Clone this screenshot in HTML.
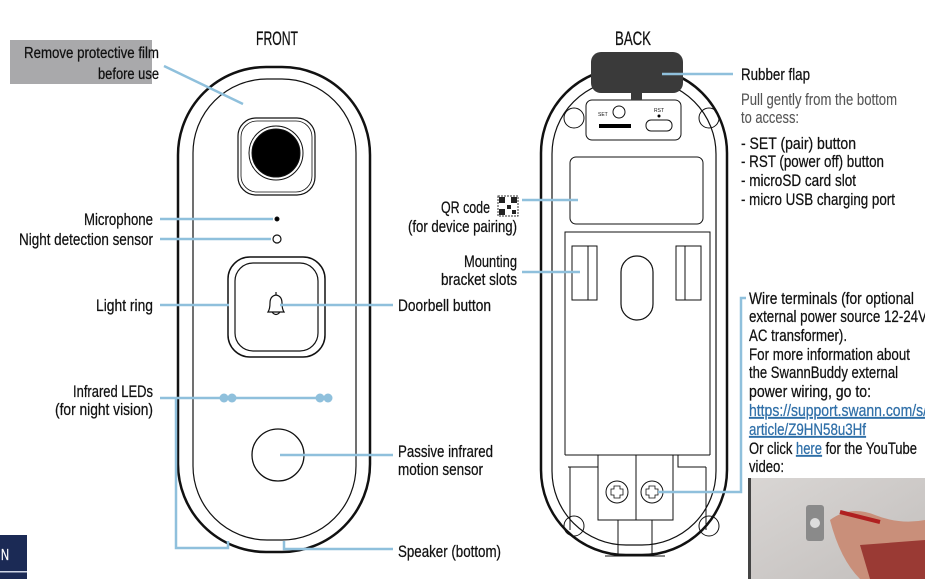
<!DOCTYPE html>
<html><head><meta charset="utf-8"><style>
html,body{margin:0;padding:0;background:#fff;}
svg{display:block;}
text{font-family:"Liberation Sans Narrow","Liberation Sans",sans-serif;font-size:16.5px;fill:#111;stroke:#111;stroke-width:0.25px;}
.g{fill:#555;stroke:#555;stroke-width:0.1px;}
.l{fill:#2f6fa8;stroke:#2f6fa8;text-decoration:underline;}
</style></head><body>
<svg width="925" height="579" viewBox="0 0 925 579" xmlns="http://www.w3.org/2000/svg">
<rect width="925" height="579" fill="#fff"/>
<text x="256" y="45" textLength="42" lengthAdjust="spacingAndGlyphs" style="font-size:19px">FRONT</text>
<text x="615" y="45" textLength="36" lengthAdjust="spacingAndGlyphs" style="font-size:19px">BACK</text>
<rect x="10" y="40" width="142" height="44" fill="#a9a9ab"/>
<text x="24" y="58" textLength="135" lengthAdjust="spacingAndGlyphs" style="font-size:15.5px">Remove protective film</text>
<text x="98" y="79" textLength="61" lengthAdjust="spacingAndGlyphs" style="font-size:15.5px">before use</text>
<rect x="0" y="535" width="27" height="44" fill="#1b2a55"/>
<rect x="0" y="571" width="27" height="1.5" fill="#cfd6e6"/>
<text x="1" y="560" style="fill:#fff;stroke:#fff;font-size:16px" textLength="8" lengthAdjust="spacingAndGlyphs">N</text>

<g fill="none" stroke="#111">
<rect x="178" y="67" width="192" height="485" rx="88" stroke-width="2.5"/>
<rect x="193" y="79" width="163" height="461" rx="74" stroke-width="1.2"/>
<rect x="238" y="118" width="77" height="77" rx="18" stroke-width="1.2"/>
<rect x="241" y="121" width="71" height="71" rx="16" stroke-width="0.8"/>
<circle cx="276" cy="153" r="27" stroke-width="1"/>
<circle cx="276" cy="153" r="24" fill="#000"/>
<circle cx="277" cy="219" r="2" fill="#000"/>
<circle cx="277" cy="239" r="4" stroke-width="1.2"/>
<rect x="228" y="257" width="97" height="100" rx="22" stroke-width="1.5"/>
<rect x="235" y="263" width="83" height="88" rx="18" stroke-width="1.2"/>
<path d="M268 312 q2-3 2-9 q0-7 6-8 q6 1 6 8 q0 6 2 9 z M272 312 q4 5 8 0 M276 295 v-3" stroke-width="1.2"/>
<circle cx="278" cy="455" r="26" stroke-width="1.3"/>
<rect x="541" y="68" width="186" height="487" rx="85" stroke-width="2.5"/>
<rect x="552" y="80" width="164" height="465" rx="74" stroke-width="1.2"/>
<circle cx="574" cy="118" r="10" stroke-width="1"/>
<circle cx="709" cy="118" r="10" stroke-width="1"/>
<circle cx="574" cy="526" r="10" stroke-width="1"/>
<circle cx="709" cy="526" r="10" stroke-width="1"/>
<rect x="586" y="100" width="95" height="40" rx="6" stroke-width="1"/>
<circle cx="619" cy="112" r="6" stroke-width="1"/>
<rect x="646" y="120" width="26" height="11" rx="5" stroke-width="1"/>
<rect x="570" y="157" width="133" height="67" rx="6" stroke-width="1"/>
<path d="M565 455 V232 H710 V455" stroke-width="1"/>
<rect x="572" y="246" width="25" height="54" stroke-width="1"/>
<rect x="676" y="246" width="25" height="54" stroke-width="1"/>
<path d="M588 246 V300 M685 246 V300" stroke-width="1"/>
<rect x="621" y="256" width="32" height="64" rx="16" stroke-width="1.2"/>
<path d="M565 455 H710 M568 467 H598 V455 M678 455 V467 H706 M598 455 V520 H673 V455 M636 455 V520 M570 467 V530 M706 467 V530 M618 520 V556 H652 V520 M605 556 H665" stroke-width="1"/>
<circle cx="617" cy="492" r="11" stroke-width="1"/>
<circle cx="652" cy="492" r="11" stroke-width="1"/>
<path d="M614 486 h6 v3 h3 v6 h-3 v3 h-6 v-3 h-3 v-6 h3 z M649 486 h6 v3 h3 v6 h-3 v3 h-6 v-3 h-3 v-6 h3 z" stroke-width="0.8"/>
</g>
<rect x="599" y="124" width="32" height="4" fill="#000"/>
<circle cx="659" cy="116" r="1.5" fill="#000"/>
<text x="598" y="116" style="font-size:5px;stroke-width:0">SET</text>
<text x="654" y="112" style="font-size:5px;stroke-width:0">RST</text>
<rect x="591" y="52" width="92" height="41" rx="10" fill="#3a3a3a"/>
<rect x="631" y="92" width="11" height="8" fill="#3a3a3a"/>

<g stroke="#8fc0dc" stroke-width="2.5" fill="none">
<path d="M164 66 L243 104"/>
<path d="M160 219 H273"/>
<path d="M160 239 H271"/>
<path d="M160 305 H229"/>
<path d="M280 305 H393"/>
<path d="M160 398 H328 M176 398 V548 H228 V541"/>
<path d="M280 455 H393"/>
<path d="M284 541 V549 H393"/>
<path d="M662 74 H733"/>
<path d="M522 200 H578"/>
<path d="M522 272 H580"/>
<path d="M658 492 H741 V298 H746"/>
</g>
<g fill="#8fc0dc">
<circle cx="224" cy="398" r="4.5"/><circle cx="232" cy="398" r="4.5"/>
<circle cx="320" cy="398" r="4.5"/><circle cx="328" cy="398" r="4.5"/>
</g>

<text x="84" y="225" textLength="69" lengthAdjust="spacingAndGlyphs">Microphone</text>
<text x="19" y="245" textLength="134" lengthAdjust="spacingAndGlyphs">Night detection sensor</text>
<text x="96" y="311" textLength="57" lengthAdjust="spacingAndGlyphs">Light ring</text>
<text x="73" y="397" textLength="80" lengthAdjust="spacingAndGlyphs">Infrared LEDs</text>
<text x="55" y="415" textLength="98" lengthAdjust="spacingAndGlyphs">(for night vision)</text>
<text x="441" y="213" textLength="49" lengthAdjust="spacingAndGlyphs">QR code</text>
<text x="408" y="232" textLength="109" lengthAdjust="spacingAndGlyphs">(for device pairing)</text>
<text x="464" y="267" textLength="53" lengthAdjust="spacingAndGlyphs">Mounting</text>
<text x="441" y="285" textLength="76" lengthAdjust="spacingAndGlyphs">bracket slots</text>
<g fill="#222">
<rect x="498" y="196" width="20" height="20" fill="#fff" stroke="#333" stroke-width="1" stroke-dasharray="2 1"/>
<rect x="499" y="197" width="6" height="6"/><rect x="511" y="197" width="6" height="6"/><rect x="499" y="209" width="6" height="6"/>
<rect x="507" y="205" width="4" height="4"/><rect x="512" y="210" width="4" height="4"/>
</g>
<text x="398" y="311" textLength="93" lengthAdjust="spacingAndGlyphs">Doorbell button</text>
<text x="398" y="457" textLength="95" lengthAdjust="spacingAndGlyphs">Passive infrared</text>
<text x="398" y="475" textLength="85" lengthAdjust="spacingAndGlyphs">motion sensor</text>
<text x="398" y="557" textLength="103" lengthAdjust="spacingAndGlyphs">Speaker (bottom)</text>

<text x="741" y="80" textLength="69" lengthAdjust="spacingAndGlyphs" style="font-size:17px">Rubber flap</text>
<text x="741" y="105" class="g" textLength="156" lengthAdjust="spacingAndGlyphs">Pull gently from the bottom</text>
<text x="741" y="123" class="g" textLength="58" lengthAdjust="spacingAndGlyphs">to access:</text>
<text x="741" y="149" textLength="115" lengthAdjust="spacingAndGlyphs">- SET (pair) button</text>
<text x="741" y="167" textLength="143" lengthAdjust="spacingAndGlyphs">- RST (power off) button</text>
<text x="741" y="186" textLength="115" lengthAdjust="spacingAndGlyphs">- microSD card slot</text>
<text x="741" y="205" textLength="154" lengthAdjust="spacingAndGlyphs">- micro USB charging port</text>

<text x="749" y="304" textLength="165" lengthAdjust="spacingAndGlyphs">Wire terminals (for optional</text>
<text x="749" y="322" textLength="178" lengthAdjust="spacingAndGlyphs">external power source 12-24V</text>
<text x="749" y="341" textLength="98" lengthAdjust="spacingAndGlyphs">AC transformer).</text>
<text x="749" y="360" textLength="161" lengthAdjust="spacingAndGlyphs">For more information about</text>
<text x="749" y="378" textLength="149" lengthAdjust="spacingAndGlyphs">the SwannBuddy external</text>
<text x="749" y="397" textLength="122" lengthAdjust="spacingAndGlyphs">power wiring, go to:</text>
<text x="749" y="416" class="l" textLength="178" lengthAdjust="spacingAndGlyphs">https://support.swann.com/s/</text>
<text x="749" y="435" class="l" textLength="117" lengthAdjust="spacingAndGlyphs">article/Z9HN58u3Hf</text>
<text x="749" y="454" textLength="168" lengthAdjust="spacingAndGlyphs">Or click <tspan class="l">here</tspan> for the YouTube</text>
<text x="749" y="472" textLength="35" lengthAdjust="spacingAndGlyphs">video:</text>

<defs><linearGradient id="wall" x1="0" y1="0" x2="1" y2="1"><stop offset="0" stop-color="#d9d6d4"/><stop offset="1" stop-color="#c2bebc"/></linearGradient></defs>
<rect x="748" y="478" width="177" height="101" fill="url(#wall)"/>
<rect x="748" y="478" width="3" height="101" fill="#444"/>
<rect x="806" y="505" width="18" height="36" rx="3" fill="#8a8a8a"/>
<circle cx="815" cy="523" r="5" fill="#ddd"/>
<path d="M830 520 q20 -15 45 -5 q25 10 50 5 V579 H860 q-20 -20 -30 -59z" fill="#c98f7a"/>
<path d="M860 545 l65 -5 V579 H870z" fill="#9a3a34"/>
<path d="M840 512 l40 10" stroke="#b02020" stroke-width="4"/>
</svg>
</body></html>
